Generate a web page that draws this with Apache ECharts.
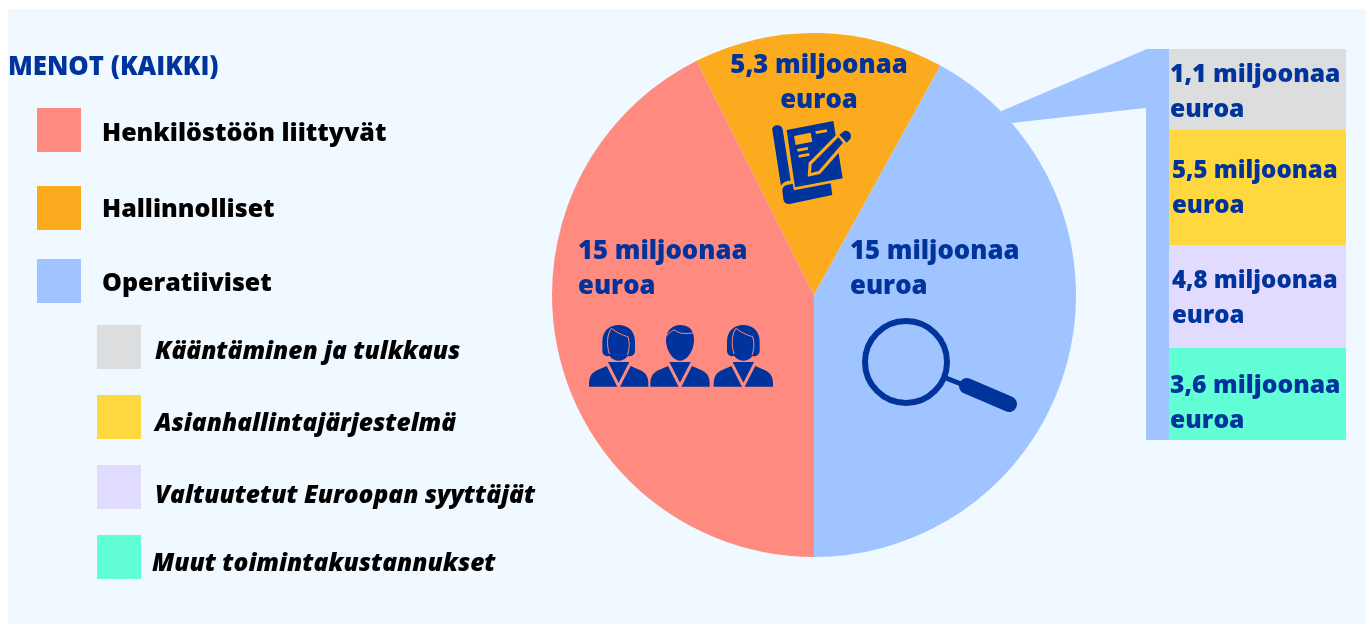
<!DOCTYPE html>
<html><head><meta charset="utf-8">
<style>html,body{margin:0;padding:0;background:#fff}#c{width:1366px;height:624px}</style>
<script src="https://cdn.jsdelivr.net/npm/echarts@6/dist/echarts.min.js"></script>
</head><body><div id="c"></div>
<script>
const titleText = 'MENOT (KAIKKI)';
const mainNames = ['Henkilöstöön liittyvät', 'Hallinnolliset', 'Operatiiviset'];
const mainValues = [15.04, 5.44, 14.82];   // slice sizes as drawn in the picture (labelled 15 / 5,3 / 15)
const mainLabels = ['15 miljoonaa\neuroa', '5,3 miljoonaa\neuroa', '15 miljoonaa\neuroa'];
const mainColors = ['#FF8A80', '#FDAB1E', '#A0C4FF'];
const opNames = ['Kääntäminen ja tulkkaus', 'Asianhallintajärjestelmä', 'Valtuutetut Euroopan syyttäjät', 'Muut toimintakustannukset'];
const opShares = [20.7, 29.4, 26.4, 23.5];   // share of the panel height
const opLabels = ['1,1 miljoonaa\neuroa', '5,5 miljoonaa\neuroa', '4,8 miljoonaa\neuroa', '3,6 miljoonaa\neuroa'];
const opColors = ['#DCDDDF', '#FFD83F', '#E1DCFF', '#62FFD6'];

const INK = '#00339C', FONT = '"Open Sans", sans-serif', WEIGHT = 800;
const cx = 814, cy = 295, R = 262;
const stripL = 1146, stripR = 1169, panelR = 1346, panelT = 49, panelB = 440;

const chart = echarts.init(document.getElementById('c'), null, {renderer: 'canvas'});

// drop: how far the text sits below the middle of its swatch
function legendItem(name, left, top, size, italic, gap, drop) {
  const a = {color: '#000', fontFamily: FONT, fontSize: size, fontWeight: WEIGHT, fontStyle: italic ? 'italic' : 'normal'};
  return {show: true, left, top, orient: 'vertical', selectedMode: false,
    data: [name], itemWidth: 44, itemHeight: 44, icon: 'rect', padding: 0,
    formatter: '{s| }\n{a|' + name + '}',
    textStyle: {padding: [0, 0, 0, gap], rich: {a, s: {fontSize: 1, lineHeight: drop * 2, height: drop * 2}}}};
}
const legends = [
  legendItem(mainNames[0], 37, 108, 25, false, 16, 4),
  legendItem(mainNames[1], 37, 186, 25, false, 16, 2),
  legendItem(mainNames[2], 37, 259, 25, false, 16, 3),
  legendItem(opNames[0], 97, 325, 24.5, true, 9, 5),
  legendItem(opNames[1], 97, 395, 24.5, true, 9, 7),
  legendItem(opNames[2], 97, 465, 24.5, true, 9, 9),
  legendItem(opNames[3], 97, 535, 24.5, true, 6, 7)
];

const pieLabelAt = [
  {x: 578, y: 269, align: 'left'},
  {x: 819, y: 83, align: 'center'},
  {x: 850, y: 269, align: 'left'}
];
const barLabelPos = [[1, 8], [3, 24], [3, 19], [1, 20]];
const barLabelSize = [24.7, 24, 24, 24.7];

let shapeId = 0;
function pathEl(d, style, extra) {
  const name = 'iconShape' + (shapeId++);
  echarts.graphic.registerShape(name, echarts.graphic.extendPath(d, {}));
  return Object.assign({type: name, style}, extra || {});
}
function person(x, kind) {
  const kids = [];
  const P = (d, fill, stroke, lw) => kids.push(pathEl(d, {fill: fill || 'none', stroke: stroke || 'none', lineWidth: lw || 0}));
  P('M-89 830 C-90 805 -85 790 -65 781 L-36 768 L-4 830 Z', INK);
  P('M89 830 C90 805 85 790 65 781 L36 768 L4 830 Z', INK);
  P('M-32 756 L32 756 L0 818 Z', INK);
  if (kind === 'w') {
    P('M-49 695 C-49 660 -25 645 0 645 C25 645 49 660 49 695 L49 722 C49 735 38 740 27 738 C20 748 10 752 0 752 C-10 752 -20 748 -27 738 C-38 740 -49 735 -49 722 Z', INK);
    P('M-22 655 C-36 675 -36 705 -28 732', null, mainColors[0], 3);
    P('M-22 655 C0 672 20 678 28 680 C34 700 32 720 26 735', null, mainColors[0], 3);
  } else {
    P('M-42 690 C-42 660 -20 645 0 645 C22 645 42 655 42 690 C42 720 22 752 0 752 C-22 752 -42 720 -42 690 Z', INK);
    P('M-42 680 C-30 665 -20 660 -15 660 C-5 672 20 672 42 668', null, mainColors[0], 3);
  }
  return {type: 'group', x, children: kids};
}
const O = mainColors[1];
const icons = {
  type: 'group', x: 570, y: 110, scaleX: 1 / 3, scaleY: 1 / 3,
  children: [
    person(146, 'w'), person(330, 'm'), person(520, 'w'),
    pathEl('M607 60 C605 42 635 40 638 58 L662 212 C645 212 636 220 633 228 Z', {fill: INK}),
    pathEl('M650 60 L790 33 L818 205 L675 232 Z', {fill: INK}),
    pathEl('M668 222 C648 225 640 225 637 240 L640 268 C642 280 650 284 662 281 L787 255 L782 220 L672 241 Z', {fill: INK}),
    pathEl('M672 78 L722 68 L727 95 L677 105 Z M736 64 L770 58 L772 66 L738 72 Z M681 117 L713 111 L715 119 L683 125 Z M685 135 L717 129 L719 137 L687 143 Z', {fill: O}),
    pathEl('M713 200 L716 158 L805 68 L833 98 L750 192 Z', {fill: O}),
    pathEl('M723 189 L725 163 L805 82 L819 98 L746 183 Z', {fill: INK}),
    pathEl('M808 74 L822 64 C834 58 848 72 841 86 L830 98 Z', {fill: INK})
  ]
};
const magnifier = {
  type: 'group', children: [
    {type: 'circle', shape: {cx: 906, cy: 362, r: 41}, style: {fill: 'none', stroke: INK, lineWidth: 6}},
    {type: 'line', shape: {x1: 946, y1: 378, x2: 966, y2: 386}, style: {stroke: INK, lineWidth: 5}},
    {type: 'line', shape: {x1: 967, y1: 386, x2: 1009, y2: 404}, style: {stroke: INK, lineWidth: 16, lineCap: 'round'}}
  ]
};
const setZ = (el, z) => { el.z = z; (el.children || []).forEach(c => setZ(c, z)); return el; };
setZ(icons, 10); setZ(magnifier, 10);
const rim = a => [cx + R * Math.sin(a * Math.PI / 180), cy - R * Math.cos(a * Math.PI / 180)];
const connector = {
  type: 'polygon', z: 1,
  shape: {points: [[stripL + 1, panelT], rim(45.5), rim(49), [stripL + 1, panelT + 0.15 * (panelB - panelT)]]},
  style: {fill: mainColors[2]}
};
const pageBg = {type: 'rect', z: -10, shape: {x: 8, y: 9, width: 1358, height: 615}, style: {fill: '#F0F9FF'}};

chart.setOption({
  animation: false,
  title: {text: titleText, left: 8, top: 55, padding: 0, itemGap: 0,
    textStyle: {color: INK, fontFamily: FONT, fontSize: 25.7, fontWeight: WEIGHT}},
  legend: legends,
  tooltip: {show: false},
  graphic: {elements: [pageBg, connector, icons, magnifier]},
  grid: [
    {left: stripL, width: stripR - stripL, top: panelT, height: panelB - panelT},
    {left: stripR, width: panelR - stripR, top: panelT, height: panelB - panelT}
  ],
  xAxis: [0, 1].map(i => ({type: 'category', gridIndex: i, data: ['Operatiiviset'], show: false})),
  yAxis: [0, 1].map(i => ({type: 'value', gridIndex: i, min: 0, max: 100, inverse: true, show: false})),
  series: [
    {type: 'pie', center: [cx, cy], radius: [0, R], startAngle: 270, clockwise: true, silent: true,
      data: mainNames.map((n, i) => ({name: n, value: mainValues[i], itemStyle: {color: mainColors[i]},
        label: {show: true, formatter: mainLabels[i], align: pieLabelAt[i].align}})),
      label: {color: INK, fontFamily: FONT, fontSize: 25.7, fontWeight: WEIGHT, lineHeight: 35},
      labelLine: {show: false},
      labelLayout: p => ({x: pieLabelAt[p.dataIndex].x, y: pieLabelAt[p.dataIndex].y,
        align: pieLabelAt[p.dataIndex].align, verticalAlign: 'middle', hideOverlap: false})
    },
    {type: 'bar', name: 'Operatiiviset yhteensä', xAxisIndex: 0, yAxisIndex: 0, barWidth: '100%', silent: true,
      data: [100], itemStyle: {color: mainColors[2]}},
    ...opNames.map((n, i) => ({
      type: 'bar', name: n, xAxisIndex: 1, yAxisIndex: 1, stack: 'op', barWidth: '100%', silent: true,
      data: [opShares[i]], itemStyle: {color: opColors[i]},
      label: {show: true, formatter: opLabels[i], position: barLabelPos[i], align: 'left', verticalAlign: 'top',
        color: INK, fontFamily: FONT, fontSize: barLabelSize[i], fontWeight: WEIGHT, lineHeight: 35}
    }))
  ]
});
</script></body></html>
